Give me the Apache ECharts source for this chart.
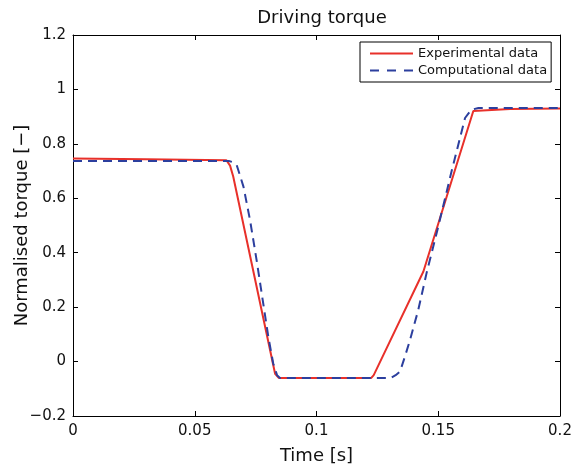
<!DOCTYPE html>
<html>
<head>
<meta charset="utf-8">
<script src="https://cdn.jsdelivr.net/npm/echarts@6/dist/echarts.min.js"></script>
<style>html,body{margin:0;padding:0;background:#fff;}#c{width:580px;height:471px;}</style>
</head>
<body>
<div id="c"></div>
<script>
const expT = [0, 0.03, 0.063, 0.0645, 0.0658, 0.083, 0.0845, 0.1225, 0.1235, 0.1439, 0.1644, 0.1795, 0.2];
const expV = [0.746, 0.743, 0.740, 0.72, 0.68, -0.045, -0.06, -0.06, -0.05, 0.331, 0.921, 0.928, 0.93];
const compT = [0, 0.064, 0.0655, 0.0672, 0.070, 0.0727, 0.0754, 0.0775, 0.0802, 0.0822, 0.0838, 0.085, 0.129, 0.1309, 0.1325, 0.1343, 0.1363, 0.1384, 0.1418, 0.1452, 0.150, 0.1555, 0.161, 0.1635, 0.1665, 0.2];
const compV = [0.737, 0.737, 0.733, 0.723, 0.643, 0.52, 0.373, 0.25, 0.092, -0.006, -0.05, -0.06, -0.06, -0.058, -0.05, -0.037, 0.018, 0.079, 0.19, 0.325, 0.496, 0.70, 0.895, 0.925, 0.932, 0.932];
const seriesNames = ["Experimental data", "Computational data"];
const titleText = "Driving torque";
const xName = "Time [s]";
const yName = "Normalised torque [\u2212]";

const font = "DejaVu Sans, Verdana, sans-serif";
const red = '#e8302a', blue = '#2c3f9e';
const fmt = v => { const s = String(parseFloat(v.toFixed(3))); return s.replace('-', '\u2212'); };
const chart = echarts.init(document.getElementById('c'));
const axisLine = {show: true, onZero: false, lineStyle: {color: '#000', width: 1}};
const tick = {inside: true, length: 5, lineStyle: {color: '#000'}};
chart.setOption({
  animation: false,
  backgroundColor: '#fff',
  title: {text: titleText, left: 317, top: 4, textAlign: 'center', textStyle: {fontFamily: font, fontSize: 18, fontWeight: 'normal', color: '#111'}},
  grid: {left: 73, right: 20, top: 35, bottom: 55, containLabel: false, outerBoundsMode: 'none'},
  legend: {
    orient: 'vertical', left: 360, top: 42, padding: [5, 4, 5, 10], itemGap: 4,
    itemWidth: 43, itemHeight: 14, borderColor: '#000', borderWidth: 1, backgroundColor: '#fff',
    textStyle: {fontFamily: font, fontSize: 13, color: '#111'},
    data: [
      {name: seriesNames[0], icon: 'path://M0,0h43v2h-43z'},
      {name: seriesNames[1], icon: 'path://M0,0h9v2h-9z M17,0h9v2h-9z M34,0h9v2h-9z'}
    ]
  },
  xAxis: [
    {type: 'value', min: 0, max: 0.2, interval: 0.05, position: 'bottom',
     name: xName, nameLocation: 'middle', nameGap: 31, nameMoveOverlap: false, nameTextStyle: {fontFamily: font, fontSize: 18, color: '#111'},
     axisLine: axisLine, axisTick: tick,
     axisLabel: {formatter: fmt, fontFamily: font, fontSize: 15, color: '#111', margin: 8},
     splitLine: {show: false}},
    {type: 'value', min: 0, max: 0.2, interval: 0.05, position: 'top',
     axisLine: axisLine, axisTick: tick, axisLabel: {show: false}, splitLine: {show: false}}
  ],
  yAxis: [
    {type: 'value', min: -0.2, max: 1.2, interval: 0.2, position: 'left',
     name: yName, nameLocation: 'middle', nameGap: 42, nameMoveOverlap: false, nameRotate: 90, nameTextStyle: {fontFamily: font, fontSize: 18, color: '#111'},
     axisLine: axisLine, axisTick: tick,
     axisLabel: {formatter: fmt, fontFamily: font, fontSize: 15, color: '#111', margin: 7},
     splitLine: {show: false}},
    {type: 'value', min: -0.2, max: 1.2, interval: 0.2, position: 'right',
     axisLine: axisLine, axisTick: tick, axisLabel: {show: false}, splitLine: {show: false}}
  ],
  series: [
    {name: seriesNames[0], type: 'line', symbol: 'none', data: expT.map((t, i) => [t, expV[i]]),
     lineStyle: {color: red, width: 2}, itemStyle: {color: red}, z: 2},
    {name: seriesNames[1], type: 'line', symbol: 'none', data: compT.map((t, i) => [t, compV[i]]),
     lineStyle: {color: blue, width: 2, type: [9, 6]}, itemStyle: {color: blue}, z: 3}
  ]
});
</script>
</body>
</html>
